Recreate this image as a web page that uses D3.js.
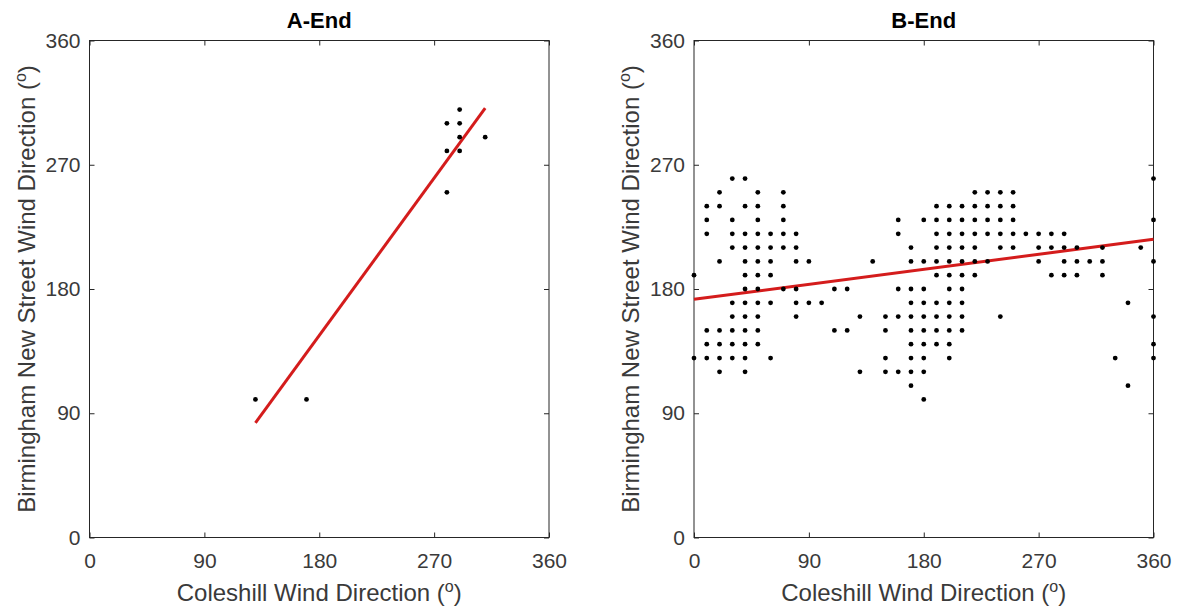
<!DOCTYPE html>
<html>
<head>
<meta charset="utf-8">
<script src="https://cdn.jsdelivr.net/npm/d3@7"></script>
<style>
  html, body { margin: 0; padding: 0; background: #fff; }
  svg { display: block; }
  text { font-family: "Liberation Sans", Arial, Helvetica, sans-serif; }
</style>
</head>
<body>
<svg id="chart" width="1178" height="611"></svg>
<script>
// ---------- data ----------
const tickValues = [0, 90, 180, 270, 360];
const titles = ["A-End", "B-End"];
const xLabelText = "Coleshill Wind Direction (";
const yLabelText = "Birmingham New Street Wind Direction (";

// A-End scatter (Coleshill vs Birmingham New Street, degrees)
const aColeshill = [290, 280, 290, 290, 310, 280, 290, 280, 130, 170];
const aNewStreet = [310, 300, 300, 290, 290, 280, 280, 250, 100, 100];
// A-End fitted line endpoints
const aFitX = [130, 310];
const aFitY = [83, 311];

// B-End scatter: Coleshill direction columns and the New Street directions observed in each
const bColeshill = [0, 10, 20, 30, 40, 50, 60, 70, 80, 90, 100, 110, 120, 130, 140, 150, 160, 170, 180,
  190, 200, 210, 220, 230, 240, 250, 260, 270, 280, 290, 300, 310, 320, 330, 340, 350, 360];
const bNewStreet = [
  [190, 130],
  [240, 230, 220, 150, 140, 130],
  [250, 240, 200, 150, 140, 130, 120],
  [260, 230, 220, 210, 170, 160, 150, 140, 130],
  [260, 240, 220, 210, 200, 190, 180, 170, 160, 150, 140, 130, 120],
  [250, 240, 230, 220, 210, 200, 190, 180, 170, 160, 150, 140],
  [220, 210, 200, 190, 170, 130],
  [250, 240, 230, 220, 210, 180],
  [220, 210, 200, 180, 170, 160],
  [200, 170],
  [170],
  [180, 150],
  [180, 150],
  [160, 120],
  [200],
  [160, 150, 130, 120],
  [230, 220, 180, 160, 120],
  [210, 200, 180, 170, 160, 150, 140, 130, 120, 110],
  [230, 200, 180, 170, 160, 150, 140, 130, 120, 100],
  [240, 230, 220, 210, 200, 190, 170, 160, 150, 140],
  [240, 230, 220, 210, 200, 190, 180, 170, 160, 150, 140, 130],
  [240, 230, 220, 210, 200, 190, 180, 170, 160, 150],
  [250, 240, 230, 220, 210, 200, 190],
  [250, 240, 230, 220, 200],
  [250, 240, 230, 220, 210, 160],
  [250, 240, 230, 220, 210],
  [220],
  [220, 210, 200],
  [220, 210, 190],
  [220, 210, 200, 190],
  [210, 200, 190],
  [200],
  [210, 200, 190],
  [130],
  [170, 110],
  [210],
  [260, 230, 200, 160, 140, 130]
];
// B-End fitted line endpoints
const bFitX = [0, 360];
const bFitY = [172.5, 216];

// ---------- build ----------
const aPoints = aColeshill.map((x, i) => ({ x, y: aNewStreet[i] }));
const bPoints = bColeshill.flatMap((x, i) => bNewStreet[i].map(y => ({ x, y })));
const aFit = aFitX.map((x, i) => ({ x, y: aFitY[i] }));
const bFit = bFitX.map((x, i) => ({ x, y: bFitY[i] }));

const panels = [
  { title: titles[0], left: 89.5, points: aPoints, fit: aFit },
  { title: titles[1], left: 694, points: bPoints, fit: bFit }
];

const plotW = 459.5, plotTop = 40.5, plotBottom = 537.5;
const svg = d3.select("#chart");
const axisColor = "#262626";
const tickColor = "#3a3a3a";

panels.forEach(p => {
  const x = d3.scaleLinear().domain([0, 360]).range([p.left, p.left + plotW]);
  const y = d3.scaleLinear().domain([0, 360]).range([plotBottom, plotTop]);
  const g = svg.append("g");

  const styleAxis = sel => {
    sel.select(".domain").remove();
    sel.selectAll(".tick line").attr("stroke", axisColor);
    sel.selectAll("text").attr("fill", tickColor).style("font-size", "21px")
      .style("font-family", '"Liberation Sans", Arial, sans-serif');
  };
  g.append("g").attr("transform", `translate(0,${plotBottom})`)
    .call(d3.axisBottom(x).tickValues(tickValues).tickSize(-5).tickPadding(16))
    .call(styleAxis);
  g.append("g").attr("transform", `translate(${p.left},0)`)
    .call(d3.axisLeft(y).tickValues(tickValues).tickSize(-5).tickPadding(9))
    .call(styleAxis);
  g.append("g").attr("transform", `translate(0,${plotTop})`)
    .call(d3.axisTop(x).tickValues(tickValues).tickSize(-5).tickFormat(""))
    .call(styleAxis);
  g.append("g").attr("transform", `translate(${p.left + plotW},0)`)
    .call(d3.axisRight(y).tickValues(tickValues).tickSize(-5).tickFormat(""))
    .call(styleAxis);

  g.append("rect")
    .attr("x", x(0)).attr("y", y(360))
    .attr("width", x(360) - x(0)).attr("height", y(0) - y(360))
    .attr("fill", "none").attr("stroke", axisColor).attr("stroke-width", 1);

  g.append("path")
    .datum(p.fit)
    .attr("d", d3.line().x(d => x(d.x)).y(d => y(d.y)))
    .attr("fill", "none").attr("stroke", "#d41c1c").attr("stroke-width", 3);

  g.selectAll("circle.pt").data(p.points).join("circle")
    .attr("class", "pt")
    .attr("cx", d => x(d.x)).attr("cy", d => y(d.y))
    .attr("r", 2.4).attr("fill", "#000");

  const cx = p.left + plotW / 2;
  g.append("text").attr("x", cx).attr("y", 28)
    .attr("text-anchor", "middle").style("font-size", "22px").style("font-weight", "bold")
    .attr("fill", "#000").text(p.title);

  const xl = g.append("text").attr("x", cx).attr("y", 601)
    .attr("text-anchor", "middle").style("font-size", "24px").attr("fill", tickColor);
  xl.append("tspan").text(xLabelText);
  xl.append("tspan").attr("dy", -9).style("font-size", "16px").text("o");
  xl.append("tspan").attr("dy", 9).text(")");

  const yl = g.append("text")
    .attr("transform", `translate(${p.left - 55},${(plotTop + plotBottom) / 2}) rotate(-90)`)
    .attr("text-anchor", "middle").style("font-size", "24px").attr("fill", tickColor);
  yl.append("tspan").text(yLabelText);
  yl.append("tspan").attr("dy", -9).style("font-size", "16px").text("o");
  yl.append("tspan").attr("dy", 9).text(")");
});
</script>
</body>
</html>
